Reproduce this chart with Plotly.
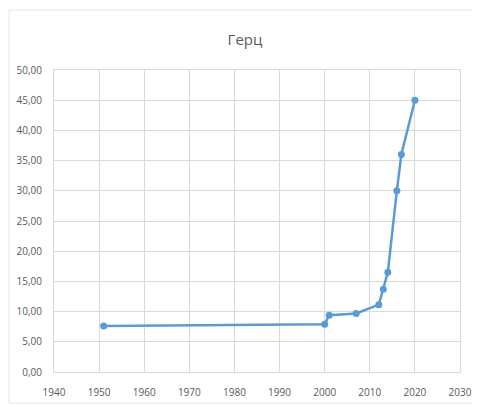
import plotly.graph_objects as go

years = [1951, 2000, 2001, 2007, 2012, 2013, 2014, 2016, 2017, 2020]
values = [7.6, 7.9, 9.4, 9.7, 11.15, 13.7, 16.5, 30.0, 36.0, 45.0]
title_text = "Герц"

font_family = "Liberation Sans Narrow, Open Sans, sans-serif"
grid = "#d9d9d9"

fig = go.Figure(go.Scatter(
    x=years, y=values, mode="lines+markers",
    line=dict(color="#5B9BD5", width=2.5),
    marker=dict(color="#5B9BD5", size=7, symbol="circle"),
    showlegend=False,
))

fig.update_layout(
    width=480, height=406,
    margin=dict(l=46, r=28, t=62, b=42),
    paper_bgcolor="white", plot_bgcolor="white",
    separators=", ",
    title=dict(text=title_text, x=237 / 480, xanchor="center", y=1 - 32 / 406, yanchor="middle",
               font=dict(family=font_family, size=15, color="#595959")),
    font=dict(family=font_family, size=10, color="#595959"),
    xaxis=dict(range=[1940, 2030], dtick=10, tick0=1940, showgrid=True, gridcolor=grid, gridwidth=1,
               showline=True, mirror=True, linecolor=grid, zeroline=False, ticks="", ticklabelstandoff=11,
               automargin=False),
    yaxis=dict(range=[0, 50], dtick=5, tickformat=".2f", showgrid=True, gridcolor=grid, gridwidth=1,
               showline=True, mirror=True, linecolor=grid, zeroline=False, ticks="", ticklabelstandoff=9,
               automargin=False),
    shapes=[dict(type="rect", xref="paper", yref="paper",
                 x0=(9 - 54) / 406, x1=(490 - 54) / 406,
                 y0=(372 - 403) / 302, y1=(372 - 10) / 302,
                 line=dict(color="#e6e6e6", width=1), fillcolor="rgba(0,0,0,0)", layer="below")],
)

fig.write_html("out.html")
